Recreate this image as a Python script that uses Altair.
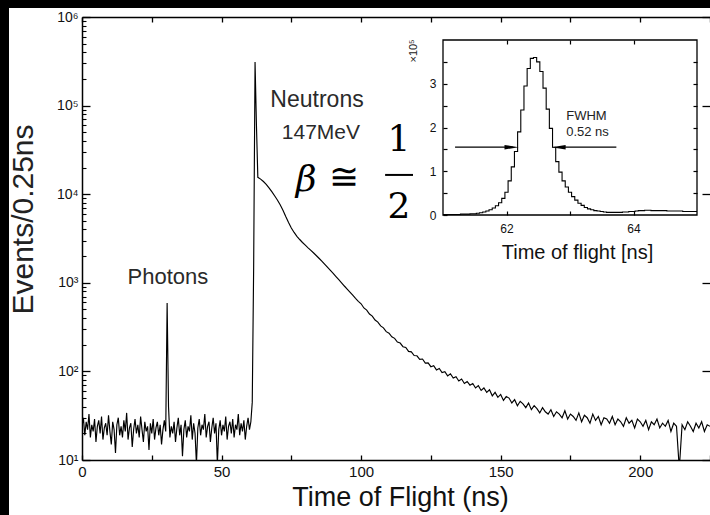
import altair as alt
import numpy as np
import pandas as pd

# ---------------- main spectrum (counts per 0.25 ns bin) ----------------
# background region, 0 ns .. 60.5 ns in 0.5 ns steps (photon peak near 30.5 ns)
bg_counts = [
    24, 30, 19, 27, 22, 33, 18, 25, 21, 29,
    16, 24, 28, 20, 31, 17, 23, 26, 19, 32,
    21, 15, 27, 22, 12, 25, 30, 19, 24, 18,
    28, 21, 34, 17, 23, 26, 14, 22, 29, 20,
    25, 18, 31, 22, 16, 27, 21, 24, 13, 26,
    20, 29, 17, 23, 27, 19, 25, 15, 22, 28,
    21, 590, 40, 18, 24, 20, 27, 16, 23, 30,
    19, 25, 11, 22, 28, 18, 24, 21, 32, 17,
    26, 20, 9, 23, 29, 19, 25, 22, 33, 18,
    24, 27, 16, 23, 30, 20, 26, 9, 22, 28,
    19, 25, 21, 31, 17, 24, 27, 20, 29, 18,
    25, 22, 33, 19, 26, 21, 28, 17, 24, 30,
    22, 27,
]
# neutron peak
peak_time = [61.0, 61.5, 62.0, 62.5]
peak_counts = [45, 1500, 310000, 60000]
# tail, 63 ns .. 225 ns in 1 ns steps
tail_counts = [
    15500, 14800, 13900, 12900, 11800, 10700, 9600, 8600, 7600, 6600,
    5600, 4800, 4150, 3700, 3350, 3080, 2850, 2660, 2480, 2320,
    2170, 2020, 1880, 1745, 1615, 1495, 1380, 1275, 1175, 1085,
    1000, 920, 850, 785, 725, 668, 618,
    580, 520, 492, 444, 421, 380, 360, 326, 310, 281,
    270, 246, 236, 214, 209, 190, 186, 168, 166, 151,
    150, 137, 138, 124, 125, 113, 116, 104, 108, 97,
    99, 89, 94, 84, 87, 78, 82, 73, 77, 70,
    73, 65, 69, 61, 65, 58, 62, 53, 58, 51,
    55, 47, 52, 50, 44, 48, 41, 46, 43, 39,
    44, 37, 41, 38, 34, 39, 35, 33, 37, 31,
    35, 33, 30, 36, 29, 33, 31, 28, 34, 27,
    32, 30, 26, 33, 28, 31, 25, 30, 29, 26,
    31, 25, 29, 27, 24, 30, 26, 28, 23, 29,
    27, 24, 28, 22, 27, 25, 29, 23, 26, 24,
    28, 21, 26, 24, 8, 25, 22, 27, 24, 21,
    26, 23, 27, 21, 25, 24,
]
bg_time = np.arange(len(bg_counts)) * 0.5
tail_time = np.arange(len(tail_counts)) + 63

main_df = pd.DataFrame({
    "x": np.concatenate([bg_time, peak_time, tail_time]),
    "y": np.concatenate([bg_counts, peak_counts, tail_counts]).astype(float),
})

# ---------------- inset: peak histogram (units of 1e5), 61..65 ns step 0.05 ----------------
inset_counts = [
    0.01, 0.01, 0.01, 0.01, 0.01, 0.01, 0.02, 0.02, 0.02, 0.03,
    0.03, 0.04, 0.05, 0.07, 0.09, 0.12, 0.16, 0.21, 0.28, 0.38,
    0.52, 0.78, 1.10, 1.45, 1.90, 2.40, 2.95, 3.35, 3.58, 3.60,
    3.50, 3.28, 2.90, 2.42, 1.98, 1.55, 1.22, 0.98, 0.78, 0.64,
    0.52, 0.42, 0.34, 0.27, 0.22, 0.17, 0.14, 0.12, 0.10, 0.09,
    0.08, 0.07, 0.06, 0.06, 0.06, 0.06, 0.06, 0.07, 0.07, 0.08,
    0.08, 0.09, 0.10, 0.10, 0.11, 0.11, 0.10, 0.10, 0.10, 0.10,
    0.10, 0.09, 0.09, 0.09, 0.09, 0.09, 0.08, 0.08, 0.08, 0.08,
    0.08,
]
inset_time = np.round(61 + np.arange(len(inset_counts)) * 0.05, 2)
inset_df = pd.DataFrame({"x": inset_time, "y": inset_counts})

box_df = pd.DataFrame({"x": [61.0], "x2": [65.0], "y": [0.0], "y2": [4.0]})
arrow_df = pd.DataFrame({"x": [61.19, 62.83], "x2": [62.10, 63.73], "y": [1.55, 1.55]})
head_r_df = pd.DataFrame({"x": [62.08], "y": [1.55]})
head_l_df = pd.DataFrame({"x": [62.82], "y": [1.55]})
fwhm_df = pd.DataFrame({"x": [62.94, 62.94], "y": [2.27, 1.89], "t": ["FWHM", "0.52 ns"]})
scale_lbl_df = pd.DataFrame({"x": [60.54], "y": [3.75], "t": ["×10⁵"]})

# ---------------- annotations of main panel ----------------
label_df = pd.DataFrame({
    "x": [30.8, 84.2, 85.6],
    "y": [1160.0, 117000.0, 49000.0],
    "t": ["Photons", "Neutrons", "147MeV"],
    "s": [22, 23, 21],
})
beta_df = pd.DataFrame({"x": [80.3], "y": [14500.0], "t": ["β"]})
cong_df = pd.DataFrame({"x": [93.9], "y": [15100.0], "t": ["≅"]})
frac_df = pd.DataFrame({"x": [113.6, 113.6], "y": [41000.0, 7200.0], "t": ["1", "2"]})
bar_df = pd.DataFrame({"x": [108.6], "x2": [118.6], "y": [16500.0]})

major_y = [10, 100, 1000, 10000, 100000, 1000000]
minor_y = [m * 10 ** k for k in range(1, 6) for m in range(2, 10)]
x_ticks = list(range(0, 226, 25))

W, H = 628, 443
FONT = "Liberation Sans"


def XM(axis=None, field="x"):
    sc = alt.Scale(domain=[0, 225], nice=False, zero=False)
    if axis is None:
        return alt.X(f"{field}:Q", scale=sc, axis=None)
    return alt.X(f"{field}:Q", scale=sc, axis=axis)


def YM(axis=None, field="y"):
    sc = alt.Scale(type="log", domain=[10, 1000000], nice=False)
    if axis is None:
        return alt.Y(f"{field}:Q", scale=sc, axis=None)
    return alt.Y(f"{field}:Q", scale=sc, axis=axis)


def XI(axis=None, field="x"):
    sc = alt.Scale(domain=[61, 65], range=[361, 615], nice=False, zero=False)
    if axis is None:
        return alt.X(f"{field}:Q", scale=sc, axis=None)
    return alt.X(f"{field}:Q", scale=sc, axis=axis)


def YI(axis=None, field="y"):
    sc = alt.Scale(domain=[0, 4], range=[198, 23], nice=False, zero=False)
    if axis is None:
        return alt.Y(f"{field}:Q", scale=sc, axis=None)
    return alt.Y(f"{field}:Q", scale=sc, axis=axis)


common = dict(zindex=1, grid=False, domainColor="black", tickColor="black",
              labelColor="#111", labelFont=FONT)

# white page area (the photo has a black frame on left/top)
page = alt.Chart(pd.DataFrame({"a": [0]})).mark_rect(color="white").encode(
    x=alt.value(-73), x2=alt.value(700), y=alt.value(-9), y2=alt.value(560)
)

sup_expr = "'10' + ['⁰','¹','²','³','⁴','⁵','⁶'][round(log(datum.value)/LN10)]"

main_line = alt.Chart(main_df).mark_line(color="black", strokeWidth=1.15, clip=True).encode(
    x=XM(alt.Axis(orient="bottom", values=[0, 50, 100, 150, 200], ticks=False, tickSize=0,
                  domain=True, domainWidth=1.5, labelFontSize=15, labelPadding=4,
                  labelFlush=False, labelOverlap=False,
                  title="Time of Flight (ns)", titleFont=FONT, titleFontSize=27,
                  titleFontWeight="normal", titleColor="#111", titleX=318, titleY=37,
                  titleAlign="center", titleBaseline="middle", **common)),
    y=YM(alt.Axis(orient="left", values=major_y, ticks=False, tickSize=0, domain=True,
                  domainWidth=1.5, labelFontSize=14, labelPadding=4, labelExpr=sup_expr,
                  labelOverlap=False, labelBaseline="middle",
                  title="Events/0.25ns", titleFont=FONT, titleFontSize=30,
                  titleFontWeight="normal", titleColor="#222", titleAngle=270,
                  titleX=-59, titleY=202, titleAlign="center", titleBaseline="middle",
                  **common)),
)

inv = alt.Chart(main_df).mark_line(opacity=0)
ax2 = inv.encode(
    x=XM(alt.Axis(orient="bottom", values=x_ticks, tickSize=5, tickWidth=1.3, offset=-5,
                  domain=False, labels=False, title=None, **common)),
    y=YM(alt.Axis(orient="left", values=major_y, tickSize=8, tickWidth=1.3, offset=-8,
                  domain=False, labels=False, title=None, **common)),
)
ax3 = inv.encode(
    x=XM(alt.Axis(orient="top", values=x_ticks, ticks=False, tickSize=0, domain=True,
                  domainWidth=1.5, labels=False, title=None, **common)),
    y=YM(alt.Axis(orient="left", values=minor_y, tickSize=4, tickWidth=1.1, offset=-4,
                  domain=False, labels=False, title=None, **common)),
)
ax4 = inv.encode(
    x=XM(alt.Axis(orient="top", values=x_ticks, tickSize=5, tickWidth=1.3, offset=-5,
                  domain=False, labels=False, title=None, **common)),
    y=YM(alt.Axis(orient="right", values=major_y, tickSize=8, tickWidth=1.3, offset=-8,
                  domain=False, labels=False, title=None, **common)),
)

labels = alt.Chart(label_df).mark_text(font=FONT, color="#2a2a2a", baseline="middle",
                                       align="center").encode(
    x=XM(), y=YM(), text="t:N", size=alt.Size("s:Q", scale=None, legend=None)
)
beta = alt.Chart(beta_df).mark_text(font="DejaVu Serif", fontStyle="italic", fontSize=36,
                                    color="black", baseline="middle").encode(
    x=XM(), y=YM(), text="t:N")
cong = alt.Chart(cong_df).mark_text(font="DejaVu Serif", fontSize=36, color="black",
                                    baseline="middle").encode(x=XM(), y=YM(), text="t:N")
frac = alt.Chart(frac_df).mark_text(font="DejaVu Serif", fontSize=36, color="black",
                                    baseline="middle").encode(x=XM(), y=YM(), text="t:N")
bar = alt.Chart(bar_df).mark_rule(color="black", strokeWidth=2).encode(
    x=XM(), x2="x2:Q", y=YM())

# ---------------- inset ----------------
in_box = alt.Chart(box_df).mark_rect(fill="white", stroke="black", strokeWidth=1.3).encode(
    x=XI(alt.Axis(orient="bottom", values=[62, 63, 64], tickSize=4, tickWidth=1.2,
                  offset=-249, domain=False, labelPadding=8, labelFontSize=12,
                  labelFlush=False, labelOverlap=False,
                  labelExpr="datum.value == 63 ? '' : datum.label",
                  title="Time of flight [ns]", titleFont=FONT, titleFontSize=20,
                  titleFontWeight="normal", titleColor="#111", titleX=495, titleY=41,
                  titleAlign="center", titleBaseline="middle", **common)),
    x2="x2:Q",
    y=YI(alt.Axis(orient="left", values=[0, 0.5, 1, 1.5, 2, 2.5, 3, 3.5], tickSize=4,
                  tickWidth=1.2, offset=-365, domain=False, labelPadding=7,
                  labelFontSize=12, labelOverlap=False, labelBaseline="middle",
                  labelExpr="datum.value % 1 == 0 ? format(datum.value, 'd') : ''",
                  title=None, **common)),
    y2="y2:Q",
)
in_line = alt.Chart(inset_df).mark_line(interpolate="step", color="black",
                                        strokeWidth=1.1).encode(
    x=XI(alt.Axis(orient="top", values=[62, 63, 64], tickSize=4, tickWidth=1.2, offset=-27,
                  domain=False, labels=False, title=None, **common)),
    y=YI(alt.Axis(orient="right", values=[0.5, 1, 1.5, 2, 2.5, 3, 3.5], tickSize=4,
                  tickWidth=1.2, offset=-17, domain=False, labels=False, title=None,
                  **common)),
)
arrows = alt.Chart(arrow_df).mark_rule(color="black", strokeWidth=1.2).encode(
    x=XI(), x2="x2:Q", y=YI())
head_r = alt.Chart(head_r_df).mark_point(shape="M-1,-0.32L1,0L-1,0.32Z", filled=True,
                                         size=200, color="black", opacity=1).encode(
    x=XI(), y=YI())
head_l = alt.Chart(head_l_df).mark_point(shape="M1,-0.32L-1,0L1,0.32Z", filled=True,
                                         size=200, color="black", opacity=1).encode(
    x=XI(), y=YI())
fwhm = alt.Chart(fwhm_df).mark_text(font=FONT, fontSize=13, color="#222", align="left",
                                    baseline="middle").encode(x=XI(), y=YI(), text="t:N")
scale_lbl = alt.Chart(scale_lbl_df).mark_text(font=FONT, fontSize=11, color="#222",
                                              angle=270, baseline="middle").encode(
    x=XI(), y=YI(), text="t:N")

chart = alt.layer(
    page, ax2, ax3, ax4, main_line, labels, beta, cong, frac, bar,
    in_box, in_line, arrows, head_r, head_l, fwhm, scale_lbl,
).resolve_scale(x="independent", y="independent").properties(
    width=W, height=H,
    padding={"left": 82, "top": 17, "right": 0, "bottom": 55},
    autosize=alt.AutoSizeParams(type="none"),
    background="black",
).configure_view(stroke=None)

chart.save("out.html", embed_options={"renderer": "svg", "actions": False})
